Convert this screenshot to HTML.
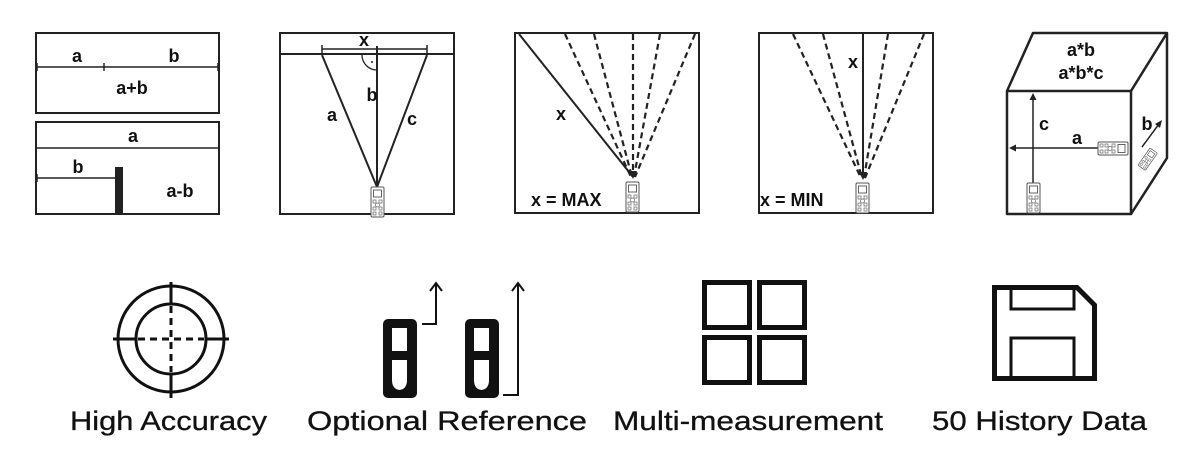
<!DOCTYPE html>
<html><head><meta charset="utf-8"><style>
html,body{margin:0;padding:0;background:#fff;}
svg{display:block;}
text{font-family:"Liberation Sans",sans-serif;fill:#111;}
.cap text{stroke:#111;stroke-width:0.3px;}
</style></head><body>
<svg width="1200" height="465" viewBox="0 0 1200 465" xmlns="http://www.w3.org/2000/svg">
<defs>
<g id="dev">
<rect x="0" y="0" width="13" height="30" rx="1.5" fill="#fff" stroke="#555" stroke-width="1"/>
<rect x="2.5" y="3" width="8" height="7" fill="none" stroke="#555" stroke-width="0.9"/>
<rect x="2" y="13" width="3" height="3" fill="none" stroke="#666" stroke-width="0.7"/>
<rect x="8" y="13" width="3" height="3" fill="none" stroke="#666" stroke-width="0.7"/>
<circle cx="6.5" cy="18" r="2" fill="none" stroke="#666" stroke-width="0.7"/>
<rect x="2" y="20" width="3" height="3" fill="none" stroke="#666" stroke-width="0.7"/>
<rect x="8" y="20" width="3" height="3" fill="none" stroke="#666" stroke-width="0.7"/>
<rect x="2" y="25" width="3" height="3" fill="none" stroke="#666" stroke-width="0.7"/>
<rect x="8" y="25" width="3" height="3" fill="none" stroke="#666" stroke-width="0.7"/>
</g>
</defs>
<g stroke="#222" fill="none" stroke-width="2">
<rect x="36" y="33" width="183" height="80"/>
<line x1="37" y1="67" x2="218" y2="67" stroke-width="1.5"/>
<line x1="104" y1="63" x2="104" y2="71" stroke-width="1.5"/>
<line x1="37" y1="63" x2="37" y2="71" stroke-width="1.5"/>
<line x1="218" y1="63" x2="218" y2="71" stroke-width="1.5"/>
<rect x="36" y="122" width="183" height="92"/>
<line x1="37" y1="148" x2="218" y2="148" stroke-width="1.5"/>
<line x1="37" y1="178" x2="115" y2="178" stroke-width="1.5"/>
<line x1="37" y1="174" x2="37" y2="182" stroke-width="1.5"/>
<rect x="115" y="167" width="8" height="47" fill="#222" stroke="none"/>
<rect x="280" y="33" width="174" height="181"/>
<line x1="281" y1="54" x2="453" y2="54"/>
<line x1="322" y1="49" x2="427" y2="49" stroke-width="1.5"/>
<line x1="322" y1="45" x2="322" y2="53" stroke-width="1.5"/>
<line x1="427" y1="45" x2="427" y2="53" stroke-width="1.5"/>
<line x1="322" y1="55" x2="377" y2="187"/>
<line x1="427" y1="55" x2="377" y2="187"/>
<line x1="377" y1="46" x2="377" y2="187"/>
<path d="M362 55 A15 15 0 0 0 377 70" stroke-width="1.3"/>
<rect x="515" y="33" width="184" height="180"/>
<line x1="519" y1="34" x2="633" y2="177"/>
<g stroke-dasharray="6,4" stroke-width="2.2">
<line x1="565" y1="34" x2="631" y2="177"/>
<line x1="594" y1="34" x2="632" y2="177"/>
<line x1="633" y1="34" x2="633" y2="177"/>
<line x1="660" y1="34" x2="634" y2="177"/>
<line x1="695" y1="34" x2="635" y2="177"/>
</g>
<rect x="759" y="33" width="174" height="180"/>
<line x1="863" y1="34" x2="863" y2="178"/>
<g stroke-dasharray="6,4" stroke-width="2.2">
<line x1="793" y1="34" x2="861" y2="178"/>
<line x1="823" y1="34" x2="862" y2="178"/>
<line x1="888" y1="34" x2="864" y2="178"/>
<line x1="924" y1="34" x2="865" y2="178"/>
</g>
<g stroke-width="2.5" stroke-linejoin="round">
<rect x="1007" y="91" width="124" height="123"/>
<path d="M1007 91 L1033 33 L1167 33 L1131 91 M1167 33 L1167 158 L1131 214"/>
</g>
<line x1="1033" y1="183" x2="1033" y2="98" stroke-width="1.5"/>
<line x1="1100" y1="148" x2="1013" y2="148" stroke-width="1.5"/>
<line x1="1142" y1="147" x2="1159" y2="124" stroke-width="1.5"/>
</g>
<g fill="#222">
<path d="M1033 93 L1029.5 100 L1036.5 100Z"/>
<path d="M1009 148 L1016 144.5 L1016 151.5Z"/>
<path d="M1162 120 L1155 124 L1160 128Z"/>
<path d="M633 179 L629 171 L637 171Z"/>
<path d="M863 180 L859 172 L867 172Z"/>
<circle cx="372" cy="62" r="1"/>
</g>
<use href="#dev" x="371" y="187"/>
<use href="#dev" x="626" y="182"/>
<use href="#dev" x="856" y="183"/>
<use href="#dev" x="1027" y="183"/>
<use href="#dev" transform="translate(1128 142) rotate(90)"/>
<use href="#dev" transform="translate(1150 148) rotate(35) scale(0.7)"/>
<g font-size="18" font-weight="bold">
<text x="77" y="62" text-anchor="middle">a</text>
<text x="174" y="62" text-anchor="middle">b</text>
<text x="132" y="94" text-anchor="middle">a+b</text>
<text x="133" y="142" text-anchor="middle">a</text>
<text x="78" y="173" text-anchor="middle">b</text>
<text x="180" y="197" text-anchor="middle">a-b</text>
<text x="364" y="46" text-anchor="middle">x</text>
<text x="332" y="121" text-anchor="middle">a</text>
<text x="372" y="101" text-anchor="middle">b</text>
<text x="412" y="125" text-anchor="middle">c</text>
<text x="561" y="120" text-anchor="middle">x</text>
<text x="531" y="206" font-size="18">x = MAX</text>
<text x="853" y="68" text-anchor="middle">x</text>
<text x="760" y="206" font-size="18">x = MIN</text>
<text x="1081" y="56" text-anchor="middle">a*b</text>
<text x="1081" y="79" text-anchor="middle">a*b*c</text>
<text x="1044" y="130" text-anchor="middle">c</text>
<text x="1077" y="144" text-anchor="middle">a</text>
<text x="1147" y="130" text-anchor="middle">b</text>
</g>
<g stroke="#111" fill="none" stroke-width="3">
<circle cx="171" cy="339" r="53"/>
<circle cx="171" cy="339" r="35"/>
<line x1="113" y1="339" x2="137" y2="339"/>
<line x1="205" y1="339" x2="229" y2="339"/>
<line x1="171" y1="282" x2="171" y2="305"/>
<line x1="171" y1="373" x2="171" y2="398"/>
<line x1="138" y1="339" x2="204" y2="339" stroke-dasharray="7,5"/>
<line x1="171" y1="306" x2="171" y2="372" stroke-dasharray="7,5"/>
</g>
<g>
<rect x="383" y="319" width="34" height="79" rx="5" fill="#111"/>
<rect x="392" y="328" width="15" height="23" fill="#fff"/>
<path d="M392 360 H407 V380 Q407 389 399.5 390 Q392 389 392 380Z" fill="#fff"/>
<rect x="465" y="319" width="34" height="79" rx="5" fill="#111"/>
<rect x="474" y="328" width="15" height="23" fill="#fff"/>
<path d="M474 360 H489 V380 Q489 389 481.5 390 Q474 389 474 380Z" fill="#fff"/>
<g stroke="#111" fill="none" stroke-width="2">
<path d="M422 324 H436 V284"/>
<path d="M430 291 L436 283 L442 291"/>
<path d="M503 395 H518 V284"/>
<path d="M512 291 L518 283 L524 291"/>
</g>
</g>
<g stroke="#111" fill="none" stroke-width="5">
<rect x="704.5" y="282.5" width="45" height="45"/>
<rect x="759.5" y="282.5" width="45" height="45"/>
<rect x="704.5" y="337.5" width="45" height="45"/>
<rect x="759.5" y="337.5" width="45" height="45"/>
</g>
<g stroke="#111" fill="none">
<path d="M994.5 287.5 H1077 L1094.5 305 V378.5 H994.5 Z" stroke-width="5"/>
<path d="M1011 287 V309 H1074 V287" stroke-width="3"/>
<path d="M1011 378 V338 H1074 V378" stroke-width="3"/>
</g>
<g class="cap" font-size="27">
<text x="70" y="430" textLength="197" lengthAdjust="spacingAndGlyphs">High Accuracy</text>
<text x="307" y="430" textLength="280" lengthAdjust="spacingAndGlyphs">Optional Reference</text>
<text x="613" y="430" textLength="270" lengthAdjust="spacingAndGlyphs">Multi-measurement</text>
<text x="932" y="430" textLength="215" lengthAdjust="spacingAndGlyphs">50 History Data</text>
</g>
</svg>
</body></html>
